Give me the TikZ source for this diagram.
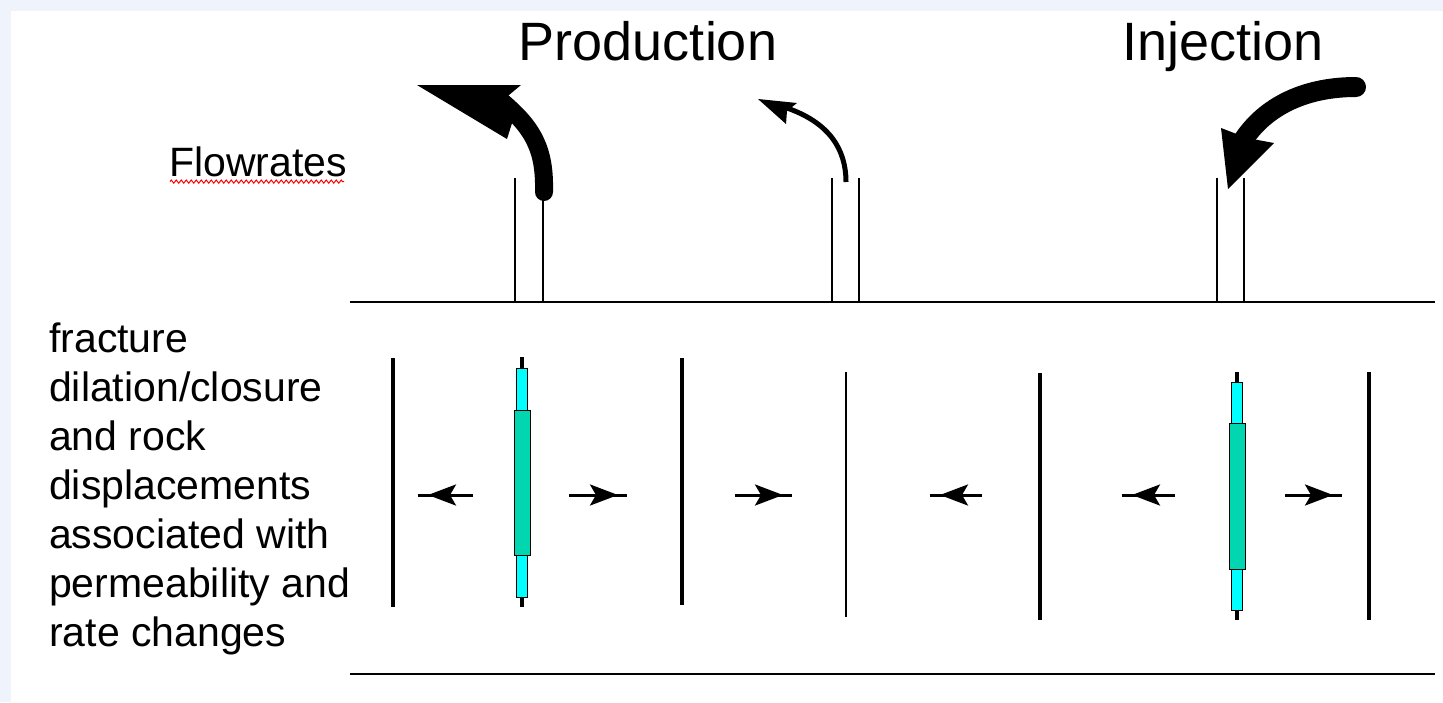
\documentclass[tikz,border=0pt]{standalone}
\usepackage{fontspec}
\setmainfont{Liberation Sans}
\usetikzlibrary{arrows.meta,decorations.pathmorphing}
\definecolor{bgblue}{RGB}{239,244,252}
\definecolor{fraccyan}{RGB}{0,255,255}
\definecolor{fracteal}{RGB}{0,214,175}
\begin{document}
\begin{tikzpicture}[x=1pt,y=-1pt,
  wellline/.style={line width=2pt},
  groundline/.style={line width=2.5pt},
  fracline/.style={line width=4pt},
  thinfrac/.style={line width=2pt},
  dispshaft/.style={line width=3pt},
  disparrow/.style={line width=3pt,-{Stealth[length=28pt,width=21pt,inset=6pt]}},
  barouter/.style={fill=fraccyan,draw=black,line width=1pt},
  barinner/.style={fill=fracteal,draw=black,line width=1pt},
  title/.style={inner sep=0pt,anchor=base,font=\fontsize{54}{60}\selectfont},
  lbl/.style={inner sep=0pt,anchor=base west}
]
\useasboundingbox (0,0) rectangle (1443,702);
\fill[bgblue] (0,0) rectangle (1443,702);
\fill[white] (11,11) rectangle (1443,702);

% titles and labels
\node[title] (prod) at (648,60) {Production};
\node[title] (inj) at (1223,60) {Injection};
\node[lbl,font=\fontsize{41}{48}\selectfont] (flow) at (169,176) {Flowrates};
\draw[red,line width=1pt,decorate,decoration={zigzag,amplitude=1.6pt,segment length=5pt}]
  (flow.south west) ++(1,5) -- ++(174,0);
\node[lbl,align=left,font=\fontsize{41}{49}\selectfont] (desc) at (49,646)
  {fracture\\dilation/closure\\and rock\\displacements\\associated with\\permeability and\\rate changes};

% ground lines
\coordinate (g1a) at (350,302); \coordinate (g1b) at (1435,302);
\coordinate (g2a) at (350,674); \coordinate (g2b) at (1435,674);
\draw[groundline] (g1a) -- (g1b);
\draw[groundline] (g2a) -- (g2b);

% wells
\foreach \x/\n in {515/a,543/b,832/c,859/d,1217/e,1244/f}{
  \coordinate (wt\n) at (\x,178); \coordinate (wb\n) at (\x,302);
  \draw[wellline] (wt\n) -- (wb\n);
}

% production big arrow
\draw[line width=18pt,line cap=round] (544,192) .. controls (545,150) and (534,128) .. (500,100);
\fill (417,85) -- (521,85) -- (503,100) -- (513,120) -- (507,139) -- cycle;

% production small arrow
\draw[line width=5pt] (846,182) .. controls (846,150) and (830,122) .. (784,107);
\fill (758,99) -- (797,103) -- (787,111) -- (786,124) -- cycle;

% injection arrow
\draw[line width=20pt,line cap=round] (1356,87) .. controls (1300,87) and (1262,110) .. (1242,142);
\fill (1221,128) -- (1247,138) -- (1274,143) -- (1228,189) -- cycle;

% fractures
\draw[fracline] (393,358) -- (393,607);
\draw[fracline] (682,358) -- (682,605);
\draw[thinfrac] (846,372) -- (846,617);
\draw[fracline] (1040,373) -- (1040,620);
\draw[fracline] (1369,372) -- (1369,620);

% dilated fracture near production well
\draw[fracline] (522,357) -- (522,607);
\filldraw[barouter] (516.5,368) rectangle (527.5,597);
\filldraw[barinner] (514,410) rectangle (530,555);

% dilated fracture near injection well
\draw[fracline] (1237,372) -- (1237,620);
\filldraw[barouter] (1231.5,382) rectangle (1242.5,610);
\filldraw[barinner] (1229,423) rectangle (1245,569);

% displacement arrows
\foreach \t/\h/\e in {473/428/418, 569/618/627, 735/783/792, 982/940/930, 1175/1132/1122, 1285/1333/1342}{
  \draw[dispshaft] (\t,495) -- (\e,495);
  \draw[disparrow] (\t,495) -- (\h,495);
}
\end{tikzpicture}
\end{document}
